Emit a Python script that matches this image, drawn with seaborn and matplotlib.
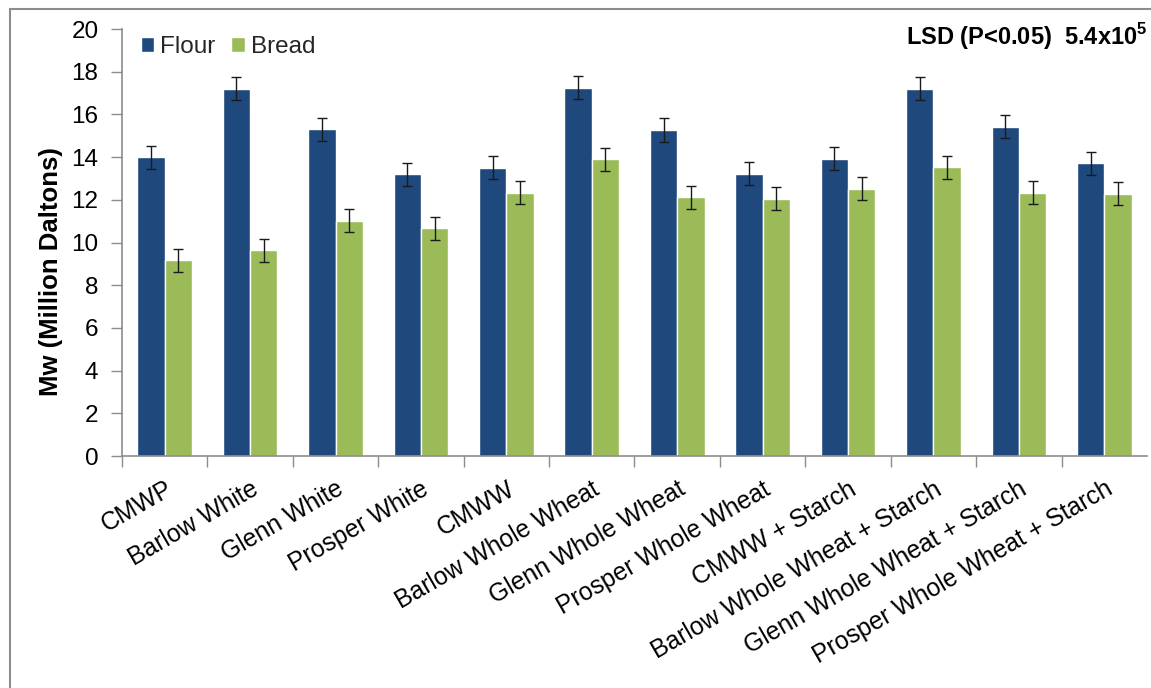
import matplotlib
matplotlib.use("Agg")
import matplotlib.pyplot as plt
from matplotlib.patches import Rectangle
from matplotlib.ticker import FixedLocator
import pandas as pd
import seaborn as sns

# Molecular weight (Mw, million Daltons) of flour and the bread baked from it
categories = [
    "CMWP", "Barlow White", "Glenn White", "Prosper White", "CMWW",
    "Barlow Whole Wheat", "Glenn Whole Wheat", "Prosper Whole Wheat",
    "CMWW + Starch", "Barlow Whole Wheat + Starch",
    "Glenn Whole Wheat + Starch", "Prosper Whole Wheat + Starch",
]
flour = [14.0, 17.2, 15.3, 13.2, 13.5, 17.25, 15.27, 13.23, 13.93, 17.2, 15.43, 13.72]
bread = [9.17, 9.63, 11.02, 10.67, 12.33, 13.9, 12.13, 12.05, 12.52, 13.52, 12.33, 12.28]
series = ["Flour", "Bread"]
lsd = 0.54  # LSD (P<0.05) = 5.4x10^5 Da, shown as error bars

colors = {"Flour": "#1F497D", "Bread": "#9BBB59"}

df = pd.DataFrame({
    "Sample": categories * 2,
    "Type": [series[0]] * len(flour) + [series[1]] * len(bread),
    "Mw": flour + bread,
})

sns.set_theme(style="white")
plt.rcParams["font.family"] = ["Liberation Sans", "DejaVu Sans"]
plt.rcParams["mathtext.fontset"] = "custom"
plt.rcParams["mathtext.rm"] = "Liberation Sans"
plt.rcParams["mathtext.bf"] = "Liberation Sans:bold"

fig = plt.figure(figsize=(11.51, 6.88), dpi=100)
ax = fig.add_axes([0.106, 0.3372, 0.8905, 0.6206])

sns.barplot(
    data=df, x="Sample", y="Mw", hue="Type", hue_order=series,
    palette=colors, saturation=1, width=0.64, errorbar=None,
    edgecolor="white", linewidth=1.0, ax=ax,
)

# error bars centred on each bar
for container, values in zip(ax.containers, [flour, bread]):
    xs = [p.get_x() + p.get_width() / 2 for p in container]
    ax.errorbar(xs, values, yerr=lsd, fmt="none", ecolor="#1a1a1a",
                elinewidth=1.0, capsize=3.5, capthick=1.0, zorder=5)

ax.set_ylim(0, 20)
ax.set_xlim(-0.5, len(categories) - 0.5)
ax.set_yticks(range(0, 21, 2))
ax.tick_params(axis="y", which="major", left=True, length=8, width=1,
               color="#8c8c8c", pad=9, labelsize=17.5, labelcolor="#000000")

# category labels without marks, boundary marks between categories
ax.tick_params(axis="x", which="major", bottom=True, length=0, pad=15,
               labelsize=17.8, labelcolor="#000000")
ax.xaxis.set_minor_locator(FixedLocator([i - 0.5 for i in range(len(categories))]))
ax.tick_params(axis="x", which="minor", bottom=True, length=8, width=1,
               color="#8c8c8c")
for lbl in ax.get_xticklabels():
    lbl.set_rotation(30)
    lbl.set_ha("right")
    lbl.set_va("top")
    lbl.set_rotation_mode("anchor")

for side in ["top", "right"]:
    ax.spines[side].set_visible(False)
for side in ["left", "bottom"]:
    ax.spines[side].set_color("#8c8c8c")
    ax.spines[side].set_linewidth(1.2)

ax.set_xlabel("")
ax.set_ylabel("Mw (Million Daltons)", fontsize=18.5, fontweight="bold", color="#000000")
ax.yaxis.set_label_coords(-0.058, 0.433)

leg = ax.legend(loc="upper left", bbox_to_anchor=(0.004, 1.018), ncol=2,
                frameon=False, fontsize=17.5, handlelength=0.55, handleheight=0.55,
                handletextpad=0.25, columnspacing=0.65, borderaxespad=0.2)

fig.text(0.9965, 1 - 45 / 688, r"LSD (P<0.05)  5.4x10$^{\mathbf{5}}$",
         ha="right", va="baseline", fontsize=17, fontweight="bold", color="#000000")

# thin frame around the chart area
fig.patches.append(Rectangle((10 / 1151, -0.2), 1.5, 1.2 - 9 / 688,
                             transform=fig.transFigure, fill=False,
                             edgecolor="#8c8c8c", linewidth=1.5))

fig.savefig("out.png", dpi=100)
